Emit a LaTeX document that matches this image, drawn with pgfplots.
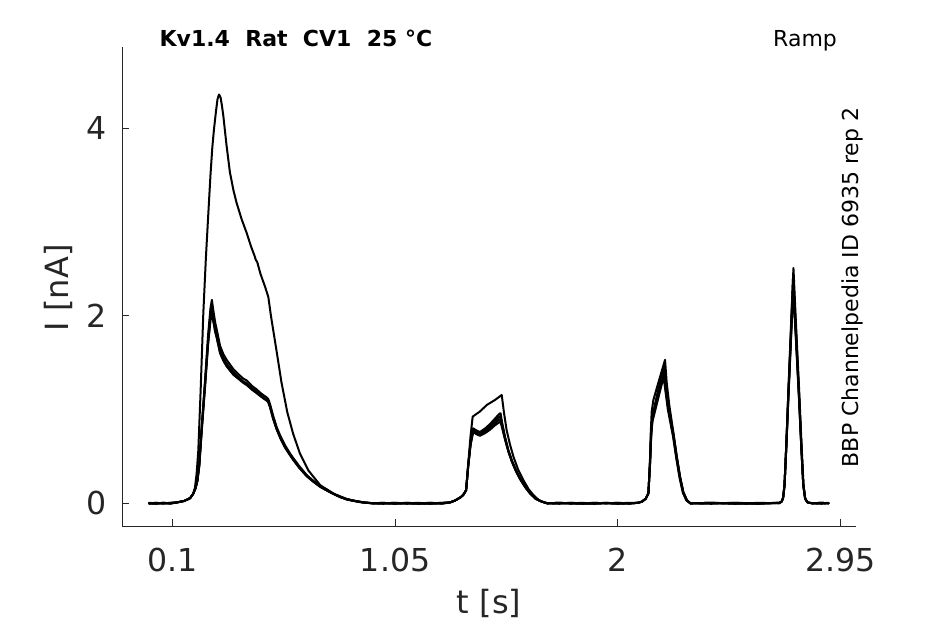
\documentclass[border=0pt]{standalone}
\usepackage{fontspec}
\setmainfont{DejaVu Sans}
\usepackage{pgfplots}
\pgfplotsset{compat=1.18}
\definecolor{axgray}{HTML}{262626}
\tikzset{tr/.style={black, line width=1bp, line join=round, line cap=round}}
\begin{document}
\begin{tikzpicture}
\useasboundingbox (-61.15bp,-49bp) rectangle (411.35bp,263bp);
\begin{axis}[
  at={(0,0)}, anchor=south west,
  width=366.85bp, height=239.65bp, scale only axis,
  xmin=-0.1143, xmax=3.017, ymin=-0.242, ymax=4.870,
  axis lines*=left,
  axis line style={axgray, line width=0.5bp},
  tick align=inside, major tick length=3.5bp,
  tick style={axgray, line width=0.5bp},
  xtick={0.1,1.05,2,2.95}, xticklabels={0.1,1.05,2,2.95},
  ytick={0,2,4}, yticklabels={0,2,4},
  /pgf/number format/assume math mode=true,
  ticklabel style={font=\fontsize{15.8bp}{18bp}\selectfont, text=axgray},
  xticklabel style={anchor=base, yshift=-22.85bp, inner sep=0pt},
  yticklabel style={anchor=east, inner sep=0pt, xshift=-7.6bp},
  xlabel={t [s]}, ylabel={I [nA]},
  label style={font=\fontsize{16bp}{19bp}\selectfont, text=axgray, inner sep=0pt},
  xlabel style={at={(axis description cs:0.5,-0.1836)}, anchor=base},
  ylabel style={at={(axis description cs:-0.0729,0.497)}, anchor=base},
  clip=false,
]
% trace A (large)
\addplot[tr] coordinates {(0.000,0.000)(0.030,-0.005)(0.060,0.005)(0.090,0.000)(0.120,0.010)(0.150,0.025)(0.175,0.055)(0.188,0.100)(0.196,0.170)(0.203,0.320)(0.210,0.560)(0.220,1.200)(0.2315,2.030)(0.2425,2.620)(0.2528,3.090)(0.262,3.500)(0.270,3.800)(0.277,3.990)(0.285,4.170)(0.292,4.310)(0.2985,4.360)(0.305,4.330)(0.311,4.240)(0.317,4.130)(0.330,3.830)(0.345,3.530)(0.360,3.340)(0.374,3.200)(0.395,3.030)(0.417,2.880)(0.435,2.740)(0.450,2.640)(0.455,2.600)(0.462,2.570)(0.475,2.450)(0.495,2.310)(0.509,2.200)(0.520,2.000)(0.545,1.610)(0.565,1.290)(0.590,0.970)(0.615,0.740)(0.644,0.530)(0.680,0.350)(0.730,0.195)(0.780,0.110)(0.843,0.040)(0.900,0.012)(0.950,0.000)(1.000,0.005)(1.050,-0.005)(1.100,0.000)(1.150,0.005)(1.200,-0.005)(1.250,0.000)(1.285,0.010)(1.306,0.030)(1.330,0.065)(1.341,0.090)(1.353,0.140)(1.362,0.420)(1.372,0.720)(1.381,0.924)(1.395,0.950)(1.410,0.975)(1.442,1.050)(1.475,1.100)(1.505,1.155)(1.515,0.960)(1.526,0.780)(1.540,0.630)(1.555,0.497)(1.575,0.360)(1.597,0.249)(1.620,0.150)(1.640,0.089)(1.665,0.030)(1.697,0.000)(1.750,0.005)(1.800,-0.005)(1.850,0.000)(1.900,0.005)(1.950,0.000)(2.000,-0.005)(2.050,0.000)(2.085,0.005)(2.103,0.017)(2.120,0.050)(2.131,0.107)(2.137,0.400)(2.141,0.750)(2.145,0.977)(2.152,1.100)(2.175,1.300)(2.202,1.530)(2.209,1.290)(2.220,1.050)(2.238,0.747)(2.252,0.500)(2.266,0.284)(2.280,0.120)(2.295,0.035)(2.310,0.000)(2.400,0.005)(2.500,-0.005)(2.600,0.000)(2.690,0.005)(2.700,0.020)(2.706,0.060)(2.712,0.200)(2.720,0.650)(2.728,1.170)(2.740,1.920)(2.750,2.510)(2.760,1.960)(2.775,1.170)(2.785,0.600)(2.793,0.200)(2.800,0.050)(2.810,0.010)(2.830,0.000)(2.870,0.005)(2.900,0.000)};
% trace B
\addplot[tr] coordinates {(0.000,0.000)(0.030,0.005)(0.060,-0.005)(0.090,0.005)(0.120,0.010)(0.150,0.025)(0.175,0.055)(0.188,0.100)(0.198,0.160)(0.206,0.240)(0.214,0.420)(0.224,0.800)(0.239,1.320)(0.252,1.800)(0.262,2.080)(0.268,2.170)(0.274,2.060)(0.282,1.930)(0.289,1.850)(0.303,1.680)(0.317,1.590)(0.331,1.530)(0.360,1.430)(0.380,1.380)(0.402,1.330)(0.417,1.310)(0.440,1.250)(0.459,1.215)(0.474,1.180)(0.490,1.150)(0.502,1.130)(0.509,1.110)(0.516,1.060)(0.530,0.930)(0.545,0.810)(0.560,0.720)(0.580,0.620)(0.602,0.530)(0.616,0.480)(0.640,0.400)(0.673,0.300)(0.701,0.240)(0.730,0.185)(0.758,0.150)(0.790,0.100)(0.815,0.075)(0.845,0.045)(0.872,0.030)(0.914,0.010)(0.957,0.000)(1.000,0.000)(1.050,0.005)(1.100,-0.005)(1.150,0.000)(1.200,0.005)(1.250,-0.005)(1.285,0.010)(1.306,0.030)(1.330,0.065)(1.341,0.090)(1.353,0.140)(1.362,0.400)(1.372,0.650)(1.383,0.800)(1.395,0.780)(1.412,0.760)(1.435,0.800)(1.455,0.845)(1.475,0.900)(1.495,0.955)(1.500,0.960)(1.506,0.870)(1.519,0.710)(1.533,0.570)(1.548,0.460)(1.565,0.360)(1.583,0.270)(1.605,0.180)(1.626,0.110)(1.650,0.050)(1.675,0.020)(1.700,0.000)(1.750,-0.005)(1.800,0.005)(1.850,0.000)(1.900,-0.005)(1.950,0.005)(2.000,0.000)(2.050,0.005)(2.085,0.005)(2.103,0.017)(2.120,0.050)(2.131,0.107)(2.138,0.450)(2.143,0.780)(2.148,0.930)(2.170,1.180)(2.199,1.470)(2.206,1.280)(2.216,1.050)(2.238,0.735)(2.252,0.495)(2.266,0.280)(2.280,0.118)(2.295,0.033)(2.310,0.000)(2.400,-0.005)(2.500,0.005)(2.600,0.000)(2.690,0.005)(2.700,0.020)(2.706,0.060)(2.712,0.200)(2.720,0.650)(2.728,1.160)(2.740,1.880)(2.749,2.450)(2.759,1.930)(2.774,1.160)(2.784,0.600)(2.792,0.200)(2.800,0.050)(2.810,0.010)(2.830,0.000)(2.870,-0.005)(2.900,0.000)};
% trace C
\addplot[tr] coordinates {(0.000,0.005)(0.030,0.000)(0.060,0.005)(0.090,-0.005)(0.120,0.010)(0.150,0.025)(0.175,0.055)(0.188,0.100)(0.198,0.160)(0.206,0.240)(0.214,0.410)(0.224,0.780)(0.239,1.290)(0.252,1.750)(0.262,2.020)(0.268,2.100)(0.274,2.000)(0.282,1.880)(0.289,1.800)(0.303,1.640)(0.317,1.550)(0.331,1.490)(0.360,1.400)(0.380,1.350)(0.402,1.300)(0.417,1.280)(0.440,1.225)(0.459,1.190)(0.474,1.155)(0.490,1.125)(0.502,1.105)(0.509,1.090)(0.516,1.040)(0.530,0.910)(0.545,0.795)(0.560,0.705)(0.580,0.605)(0.602,0.520)(0.616,0.470)(0.640,0.390)(0.673,0.295)(0.701,0.235)(0.730,0.180)(0.758,0.140)(0.790,0.098)(0.815,0.068)(0.845,0.044)(0.872,0.028)(0.914,0.010)(0.957,0.000)(1.000,-0.005)(1.050,0.000)(1.100,0.005)(1.150,-0.005)(1.200,0.000)(1.250,0.005)(1.285,0.010)(1.306,0.030)(1.330,0.065)(1.341,0.090)(1.353,0.140)(1.362,0.400)(1.372,0.640)(1.383,0.780)(1.395,0.760)(1.412,0.740)(1.435,0.780)(1.455,0.820)(1.475,0.875)(1.495,0.925)(1.500,0.930)(1.506,0.850)(1.519,0.700)(1.533,0.565)(1.548,0.455)(1.565,0.355)(1.583,0.265)(1.605,0.178)(1.626,0.108)(1.650,0.050)(1.675,0.020)(1.700,0.000)(1.750,0.005)(1.800,0.000)(1.850,-0.005)(1.900,0.005)(1.950,0.000)(2.000,0.005)(2.050,-0.005)(2.085,0.005)(2.103,0.017)(2.120,0.050)(2.131,0.107)(2.138,0.440)(2.143,0.760)(2.148,0.910)(2.170,1.150)(2.198,1.420)(2.205,1.250)(2.216,1.030)(2.238,0.725)(2.252,0.490)(2.266,0.278)(2.280,0.116)(2.295,0.033)(2.310,0.000)(2.400,0.005)(2.500,0.000)(2.600,-0.005)(2.690,0.005)(2.700,0.020)(2.706,0.060)(2.712,0.200)(2.720,0.640)(2.728,1.140)(2.740,1.840)(2.749,2.380)(2.759,1.890)(2.774,1.140)(2.784,0.590)(2.792,0.200)(2.800,0.050)(2.810,0.010)(2.830,0.000)(2.870,0.005)(2.900,0.000)};
% trace D
\addplot[tr] coordinates {(0.000,-0.005)(0.030,0.005)(0.060,0.000)(0.090,0.005)(0.120,0.010)(0.150,0.025)(0.175,0.055)(0.188,0.100)(0.198,0.160)(0.206,0.240)(0.214,0.400)(0.224,0.760)(0.239,1.260)(0.252,1.720)(0.262,1.980)(0.268,2.060)(0.274,1.960)(0.282,1.840)(0.289,1.770)(0.303,1.610)(0.317,1.530)(0.331,1.470)(0.360,1.380)(0.380,1.335)(0.402,1.290)(0.417,1.270)(0.440,1.215)(0.459,1.180)(0.474,1.150)(0.490,1.120)(0.502,1.100)(0.509,1.080)(0.516,1.030)(0.530,0.900)(0.545,0.790)(0.560,0.700)(0.580,0.600)(0.602,0.515)(0.616,0.465)(0.640,0.385)(0.673,0.290)(0.701,0.232)(0.730,0.178)(0.758,0.138)(0.790,0.097)(0.815,0.067)(0.845,0.043)(0.872,0.028)(0.914,0.010)(0.957,0.000)(1.000,0.005)(1.050,-0.005)(1.100,0.005)(1.150,0.000)(1.200,-0.005)(1.250,0.005)(1.285,0.010)(1.306,0.030)(1.330,0.065)(1.341,0.090)(1.353,0.140)(1.362,0.400)(1.372,0.630)(1.383,0.770)(1.395,0.750)(1.412,0.730)(1.435,0.765)(1.455,0.800)(1.475,0.850)(1.495,0.895)(1.500,0.900)(1.506,0.830)(1.519,0.690)(1.533,0.560)(1.548,0.450)(1.565,0.350)(1.583,0.262)(1.605,0.175)(1.626,0.106)(1.650,0.048)(1.675,0.018)(1.700,0.000)(1.750,0.000)(1.800,0.005)(1.850,-0.005)(1.900,0.000)(1.950,0.005)(2.000,-0.005)(2.050,0.000)(2.085,0.005)(2.103,0.017)(2.120,0.050)(2.131,0.107)(2.138,0.430)(2.143,0.740)(2.148,0.890)(2.170,1.120)(2.197,1.380)(2.204,1.230)(2.215,1.020)(2.237,0.720)(2.251,0.485)(2.265,0.275)(2.279,0.115)(2.294,0.032)(2.310,0.000)(2.400,0.000)(2.500,0.005)(2.600,-0.005)(2.690,0.005)(2.700,0.020)(2.706,0.060)(2.712,0.195)(2.720,0.630)(2.728,1.120)(2.740,1.800)(2.749,2.320)(2.759,1.850)(2.774,1.120)(2.784,0.580)(2.792,0.195)(2.800,0.050)(2.810,0.010)(2.830,0.000)(2.870,0.000)(2.900,0.005)};
% trace E
\addplot[tr] coordinates {(0.000,0.000)(0.030,-0.005)(0.060,0.005)(0.090,0.000)(0.120,0.010)(0.150,0.025)(0.175,0.055)(0.188,0.100)(0.198,0.160)(0.206,0.240)(0.214,0.390)(0.224,0.750)(0.239,1.250)(0.252,1.700)(0.262,1.950)(0.268,2.030)(0.274,1.940)(0.282,1.830)(0.289,1.760)(0.303,1.600)(0.317,1.520)(0.331,1.460)(0.360,1.370)(0.380,1.330)(0.402,1.285)(0.417,1.260)(0.440,1.210)(0.459,1.175)(0.474,1.145)(0.490,1.115)(0.502,1.095)(0.509,1.075)(0.516,1.025)(0.530,0.895)(0.545,0.785)(0.560,0.695)(0.580,0.595)(0.602,0.510)(0.616,0.460)(0.640,0.380)(0.673,0.288)(0.701,0.230)(0.730,0.176)(0.758,0.137)(0.790,0.096)(0.815,0.066)(0.845,0.042)(0.872,0.027)(0.914,0.010)(0.957,0.000)(1.000,0.000)(1.050,0.005)(1.100,0.000)(1.150,-0.005)(1.200,0.005)(1.250,0.000)(1.285,0.010)(1.306,0.030)(1.330,0.065)(1.341,0.090)(1.353,0.140)(1.362,0.400)(1.372,0.620)(1.383,0.760)(1.395,0.740)(1.412,0.720)(1.435,0.750)(1.455,0.785)(1.475,0.830)(1.495,0.865)(1.500,0.870)(1.506,0.810)(1.519,0.680)(1.533,0.555)(1.548,0.445)(1.565,0.345)(1.583,0.258)(1.605,0.172)(1.626,0.104)(1.650,0.047)(1.675,0.018)(1.700,0.000)(1.750,0.005)(1.800,0.000)(1.850,0.005)(1.900,-0.005)(1.950,0.000)(2.000,0.005)(2.050,0.000)(2.085,0.005)(2.103,0.017)(2.120,0.050)(2.131,0.107)(2.138,0.420)(2.143,0.720)(2.148,0.870)(2.170,1.090)(2.196,1.350)(2.203,1.210)(2.214,1.000)(2.236,0.715)(2.250,0.480)(2.264,0.272)(2.278,0.113)(2.293,0.031)(2.310,0.000)(2.400,0.005)(2.500,-0.005)(2.600,0.005)(2.690,0.000)(2.700,0.020)(2.706,0.060)(2.712,0.190)(2.720,0.620)(2.728,1.100)(2.740,1.770)(2.749,2.270)(2.759,1.820)(2.774,1.100)(2.784,0.570)(2.792,0.190)(2.800,0.050)(2.810,0.010)(2.830,0.000)(2.870,0.005)(2.900,0.000)};
\node[anchor=base west, inner sep=0pt, font=\bfseries\fontsize{11bp}{13bp}\selectfont] at (rel axis cs:0.0504,1) {Kv1.4\ \ Rat\ \ CV1\ \ 25 °C};
\node[anchor=base east, inner sep=0pt, font=\fontsize{11bp}{13bp}\selectfont] at (rel axis cs:0.9745,1) {Ramp};
\node[anchor=base, rotate=90, inner sep=0pt, font=\fontsize{11bp}{13bp}\selectfont] at (rel axis cs:1.0031,0.4976) {BBP Channelpedia ID 6935 rep 2};
\end{axis}
\end{tikzpicture}
\end{document}
